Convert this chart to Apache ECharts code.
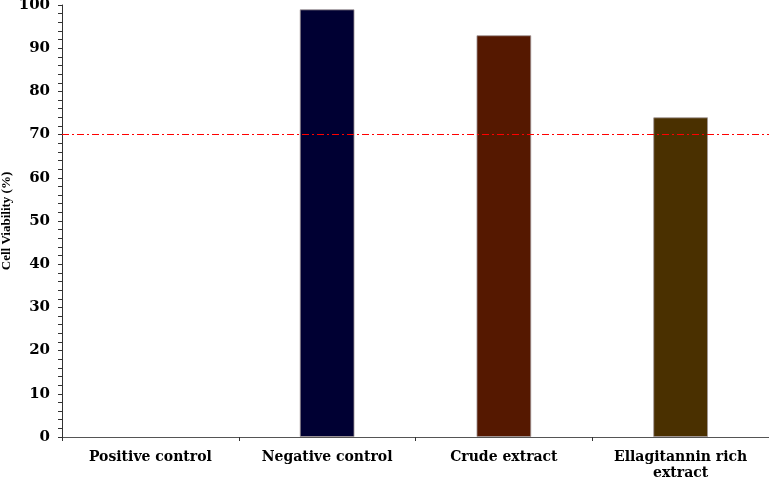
<!DOCTYPE html>
<html><head><meta charset="utf-8">
<script src="https://cdn.jsdelivr.net/npm/echarts@6/dist/echarts.min.js"></script>
<style>html,body{margin:0;padding:0;background:#fff}#c{width:769px;height:479px}</style>
</head><body><div id="c"></div>
<script>
const categories = ['Positive control', 'Negative control', 'Crude extract', 'Ellagitannin rich\nextract'];
const viability = [0, 99, 93, 74];
const barColors = ['#000033', '#000033', '#551800', '#4a3000'];
const threshold = 70;

const chart = echarts.init(document.getElementById('c'));
const font = '"DejaVu Serif", serif';
const nameFont = '"Liberation Serif", "Times New Roman", serif';
chart.setOption({
  animation: false,
  grid: { left: 62, right: 0, top: 5, bottom: 42, containLabel: false, outerBoundsMode: 'none' },
  xAxis: {
    type: 'category', data: categories,
    axisLine: { lineStyle: { color: '#555', width: 1 } },
    axisTick: { show: true, length: 4, lineStyle: { color: '#333' } },
    axisLabel: { color: '#000', fontFamily: font, fontWeight: 'bold', fontSize: 14, margin: 12, lineHeight: 16 }
  },
  yAxis: {
    type: 'value', min: 0, max: 100, interval: 10,
    name: 'Cell Viability (%)', nameLocation: 'middle', nameGap: 49, nameRotate: 90,
    nameMoveOverlap: false,
    nameTextStyle: { color: '#000', fontFamily: nameFont, fontWeight: 'bold', fontSize: 13, verticalAlign: 'bottom' },
    axisLine: { show: true, lineStyle: { color: '#333' } },
    axisTick: { show: true, length: 4, lineStyle: { color: '#333' } },
    minorTick: { show: true, splitNumber: 5, length: 4, lineStyle: { color: '#333' } },
    splitLine: { show: false },
    axisLabel: { color: '#000', fontFamily: font, fontWeight: 'bold', fontSize: 15, margin: 12 }
  },
  series: [{
    type: 'bar', barWidth: '31%',
    data: viability.map((v, i) => ({ value: v, itemStyle: { color: barColors[i], borderWidth: v ? 1 : 0 } })),
    itemStyle: { borderColor: 'rgba(160,150,150,0.8)', borderWidth: 1 },
    markLine: {
      silent: true, symbol: 'none', label: { show: false },
      lineStyle: { color: '#ff0000', width: 1, type: [7, 3, 2, 3] },
      itemStyle: { color: '#ff0000' },
      data: [{ yAxis: threshold, lineStyle: { color: '#ff0000' } }]
    }
  }]
});
</script></body></html>
